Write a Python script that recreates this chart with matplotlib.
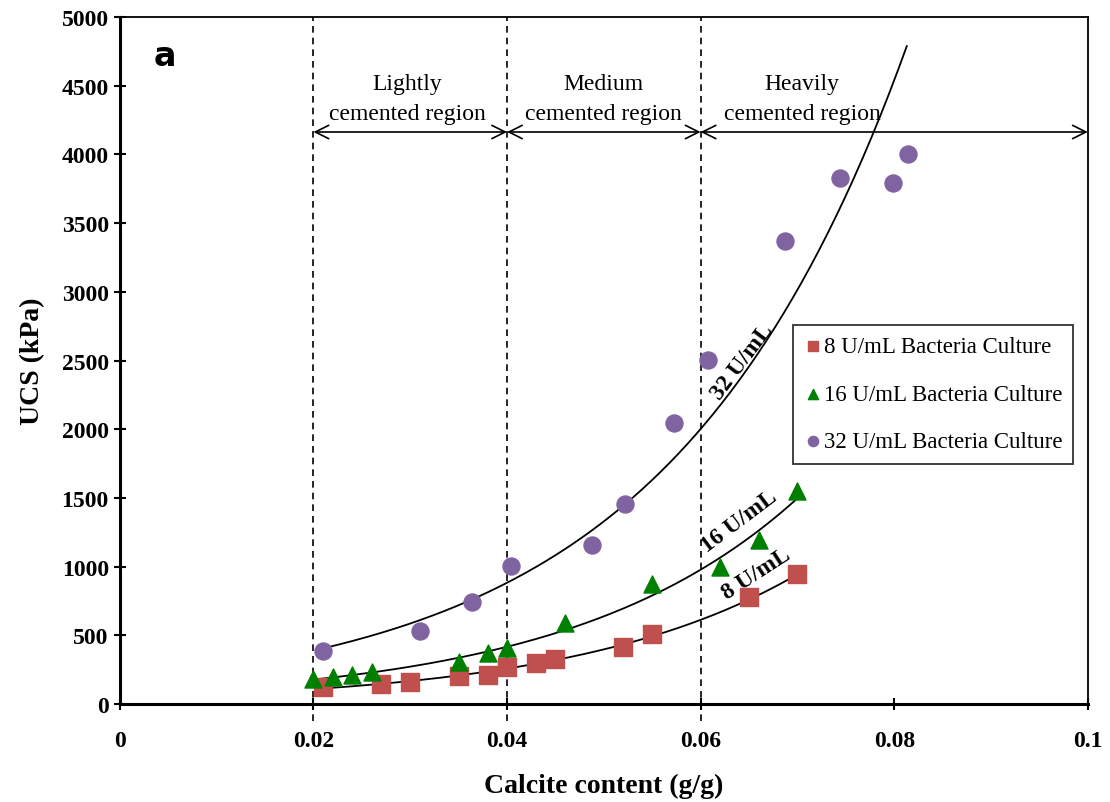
import numpy as np
import matplotlib.pyplot as plt

# data
x8 = [0.021, 0.027, 0.030, 0.035, 0.038, 0.040, 0.043, 0.045, 0.052, 0.055, 0.065, 0.070]
y8 = [124, 146, 160, 204, 211, 270, 298, 328, 415, 510, 779, 946]

x16 = [0.020, 0.022, 0.024, 0.026, 0.035, 0.038, 0.040, 0.046, 0.055, 0.062, 0.066, 0.070]
y16 = [180, 196, 211, 233, 306, 371, 408, 590, 873, 997, 1194, 1550]

x32 = [0.021, 0.031, 0.0364, 0.0404, 0.0488, 0.0522, 0.0572, 0.0608, 0.0687, 0.0744, 0.0799, 0.0814]
y32 = [386, 531, 742, 1004, 1157, 1455, 2045, 2504, 3370, 3828, 3792, 4003]

region_bounds = [0.02, 0.04, 0.06, 0.1]
region_names = ['Lightly\ncemented region', 'Medium\ncemented region', 'Heavily\ncemented region']
region_text_x = [0.0297, 0.0500, 0.0705]

plt.rcParams['font.family'] = 'Liberation Serif'

fig = plt.figure(figsize=(11.1, 8.03), dpi=100)
ax = fig.add_axes([0.108, 0.122, 0.872, 0.8556])

ax.scatter(x8, y8, marker='s', s=150, color='#C0504D', label='8 U/mL Bacteria Culture', zorder=3)
ax.scatter(x16, y16, marker='^', s=150, color='#008000', label='16 U/mL Bacteria Culture', zorder=3)
ax.scatter(x32, y32, marker='o', s=150, color='#8064A2', label='32 U/mL Bacteria Culture', zorder=3)


# exponential trendlines (least squares on log y, like Excel)
def exp_fit(xs, ys, x_end):
    b, ln_a = np.polyfit(xs, np.log(ys), 1)
    xx = np.linspace(min(xs), x_end, 200)
    return xx, np.exp(ln_a) * np.exp(b * xx)


for xs, ys, xe in [(x8, y8, 0.070), (x16, y16, 0.070), (x32, y32, 0.0813)]:
    xx, yy = exp_fit(xs, ys, xe)
    keep = yy <= 4800
    ax.plot(xx[keep], yy[keep], color='black', lw=1.3, zorder=2)

ax.text(0.0643, 2496, '32 U/mL', rotation=53, fontsize=17, fontweight='bold', ha='center', va='center')
ax.text(0.0640, 1330, '16 U/mL', rotation=37, fontsize=17, fontweight='bold', ha='center', va='center')
ax.text(0.0658, 950, '8 U/mL', rotation=33, fontsize=17, fontweight='bold', ha='center', va='center')

# region boundaries and arrows
for xb in region_bounds[:3]:
    ax.plot([xb, xb], [-120, 5000], color='black', ls=(0, (4, 3)), lw=1.2, clip_on=False, zorder=1)

for i, name in enumerate(region_names):
    x0, x1 = region_bounds[i], region_bounds[i + 1]
    ax.annotate('', xy=(x0, 4163), xytext=(x1, 4163),
                arrowprops=dict(arrowstyle='<->', color='black', lw=1.2,
                                shrinkA=0, shrinkB=0, mutation_scale=24))
    ax.text(region_text_x[i], 4220, name, ha='center', va='bottom', fontsize=17, linespacing=1.6)

ax.text(0.0035, 4720, 'a', fontsize=24, fontweight='bold', family='DejaVu Sans', va='center')

ax.set_xlim(0, 0.1)
ax.set_ylim(0, 5000)
ax.set_xticks([0, 0.02, 0.04, 0.06, 0.08, 0.1])
ax.set_xticklabels(['0', '0.02', '0.04', '0.06', '0.08', '0.1'])
ax.set_yticks(np.arange(0, 5001, 500))
ax.tick_params(axis='both', direction='inout', length=9, width=1.5, labelsize=17)
ax.tick_params(axis='x', pad=14)
for lbl in ax.get_xticklabels() + ax.get_yticklabels():
    lbl.set_fontweight('bold')

for side in ['left', 'bottom']:
    ax.spines[side].set_linewidth(2.2)
for side in ['top', 'right']:
    ax.spines[side].set_linewidth(1.3)

ax.set_xlabel('Calcite content (g/g)', fontsize=20, fontweight='bold', labelpad=16)
ax.set_ylabel('UCS (kPa)', fontsize=20, fontweight='bold', labelpad=12)

leg = ax.legend(loc='upper left', bbox_to_anchor=(0.695, 0.552), borderaxespad=0, fontsize=16.5,
                frameon=True, fancybox=False, edgecolor='black', handletextpad=0.05,
                handlelength=0.8, labelspacing=1.15, borderpad=0.5, markerscale=0.6)
leg.get_frame().set_linewidth(1.3)

plt.savefig('out.png', dpi=100)
